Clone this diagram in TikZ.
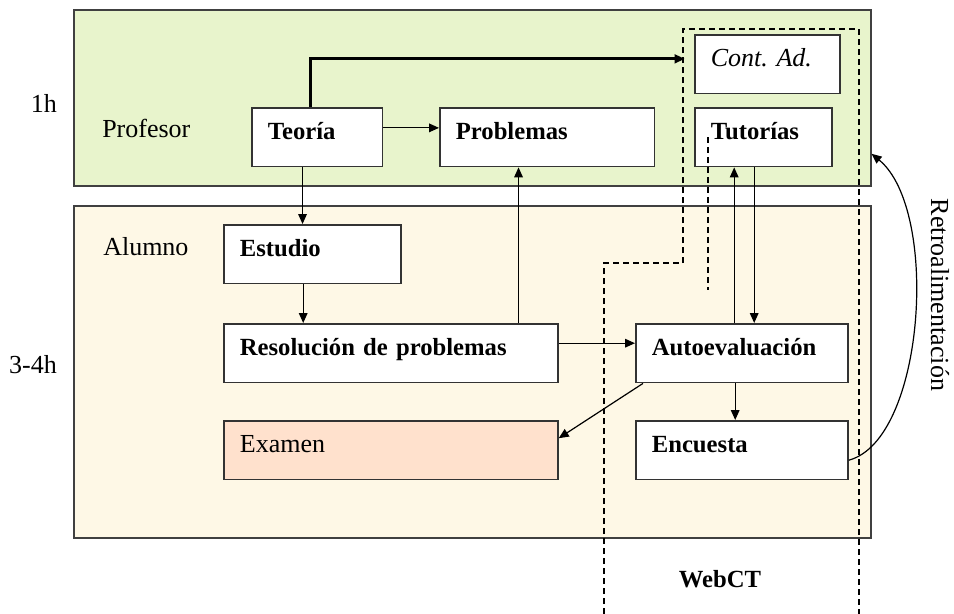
\documentclass[tikz,border=0pt]{standalone}
\usepackage{fontspec}
\setmainfont{Liberation Serif}
\usetikzlibrary{arrows.meta}
\definecolor{verdeprof}{RGB}{232,244,204}
\definecolor{cremaalum}{RGB}{254,248,230}
\definecolor{salmonexam}{RGB}{255,225,205}
\newcommand{\letranegrita}{\bfseries\fontsize{18.5}{21}\selectfont}
\newcommand{\letranormal}{\fontsize{19.5}{22}\selectfont}

\begin{document}
\begin{tikzpicture}[x=0.75pt, y=-0.75pt,
  zona/.style={draw=black!75, line width=1.2pt, anchor=north west, inner sep=0pt, minimum width=597.75pt},
  caja/.style={draw=black!80, line width=1.3pt, fill=white, anchor=north west, inner xsep=12pt, inner ysep=0pt, text height=24pt, text depth=20pt, align=left, font=\letranegrita, text width=#1},
  flecha/.style={line width=0.9pt, -{Triangle[length=7.5pt, width=6.5pt]}},
  webct/.style={line width=1.1pt, dash pattern=on 4.5pt off 3pt},
  rotulo/.style={font=\letranormal, anchor=base west, inner sep=0pt}]
\useasboundingbox (0,0) rectangle (954,614);

% zonas
\node[zona, fill=verdeprof, minimum height=132pt] (zprof) at (73,9) {};
\node[zona, fill=cremaalum, minimum height=249pt] (zalum) at (73,205) {};
\node[rotulo] (profesor) at (102,137) {Profesor};
\node[rotulo] (alumno) at (103,255) {Alumno};
\node[font=\letranormal] (hprof) at (44,103) {1h};
\node[font=\letranormal] (halum) at (33,365) {3-4h};

% cajas
\node[caja=74pt] (teoria) at (251,107) {Teoría};
\node[caja=137pt] (problemas) at (439,107) {Problemas};
\node[caja=85pt, font=\letranormal\itshape] (contad) at (694,34) {Cont.\ Ad.};
\node[caja=79pt] (tutorias) at (694,107) {Tutorías};
\node[caja=109pt] (estudio) at (223,224) {Estudio};
\node[caja=226.5pt] (resol) at (223,323) {Resolución de problemas};
\node[caja=226.5pt, fill=salmonexam, font=\letranormal] (examen) at (223,420) {Examen};
\node[caja=135pt] (autoeval) at (635,323) {Autoevaluación};
\node[caja=135pt] (encuesta) at (635,420) {Encuesta};

% WebCT
\draw[webct] (604,614) -- (604,263) -- (683,263) -- (683,29) -- (859,29) -- (859,614);
\draw[webct] (708,137) -- (708,290);
\node[font=\letranegrita] (webct) at (720,579) {WebCT};

% flechas
\draw[flecha] ([yshift=7pt]teoria.east) -- ([yshift=7pt]problemas.west);
\draw[flecha, line width=2.2pt] ([xshift=-5pt]teoria.north) |- ([xshift=-7pt, yshift=4pt]contad.west);
\draw[flecha] ([xshift=-11pt]teoria.south) -- ([xshift=-11pt]teoria.south |- estudio.north);
\draw[flecha] ([xshift=-7pt]estudio.south) -- ([xshift=-7pt]estudio.south |- resol.north);
\draw[flecha] ([xshift=-21.5pt]problemas.south |- resol.north) -- ([xshift=-21.5pt]problemas.south);
\draw[flecha] ([yshift=7.5pt]resol.east) -- ([yshift=7.5pt]resol.east -| autoeval.west);
\draw[flecha] ([xshift=-22pt]tutorias.south |- autoeval.north) -- ([xshift=-22pt]tutorias.south);
\draw[flecha] ([xshift=-7pt]tutorias.south) -- ([xshift=-7pt]tutorias.south |- autoeval.north);
\draw[flecha] ([xshift=-5pt]autoeval.south) -- ([xshift=-5pt]autoeval.south |- encuesta.north);
\draw[flecha] ([xshift=6pt]autoeval.south west) -- ([yshift=9pt]examen.east);
\draw[flecha] ([yshift=-7.5pt]encuesta.east) .. controls (925,440) and (940,210) .. ([yshift=-42pt]zprof.east);
\node[font=\letranormal, rotate=-90] (retro) at (940,295) {Retroalimentación};
\end{tikzpicture}
\end{document}
